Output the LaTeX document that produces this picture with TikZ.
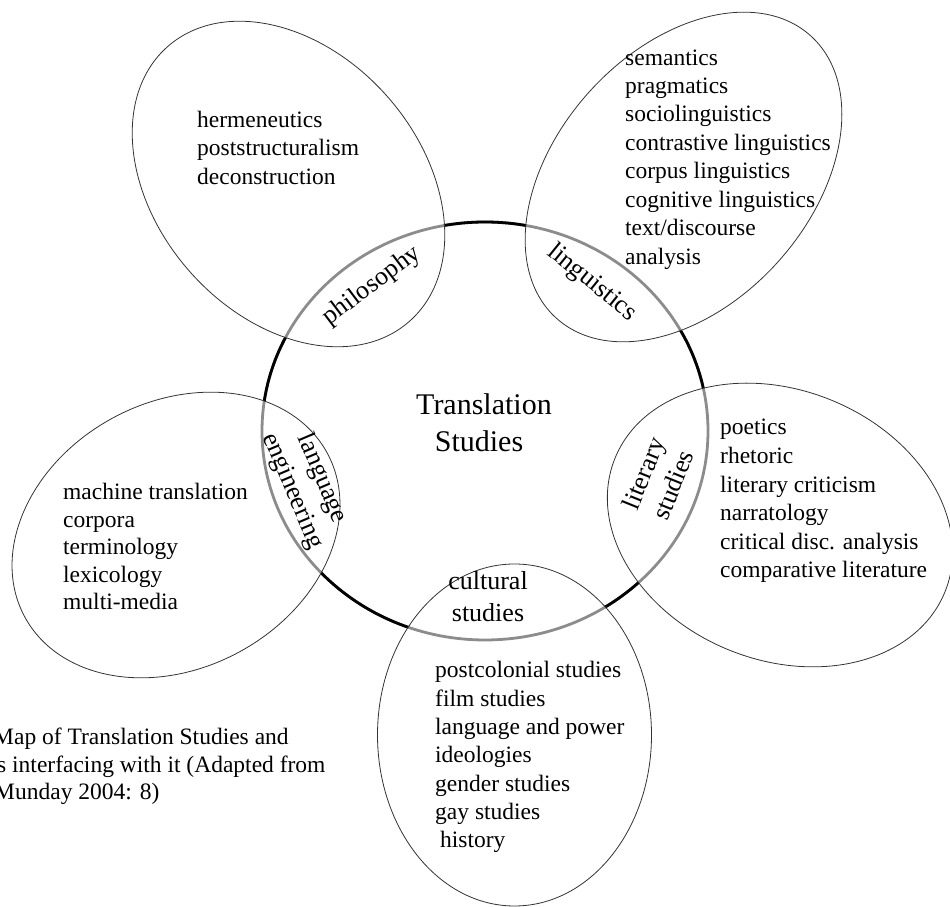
\documentclass[tikz,border=0pt]{standalone}
\usepackage{fontspec}
\setmainfont{Liberation Serif}
\usepackage{tikz}
\tikzset{every picture/.append style={x=1pt, y=1pt}}
\tikzset{
    field/.style={draw=black!80, line width=0.8pt},
    tsring/.style={line width=2.8pt},
    item/.style={anchor=base west, inner sep=0pt, font=\fontsize{23.5}{28}\selectfont},
    joint/.style={align=center, inner sep=0pt, font=\fontsize{26}{32}\selectfont},
    tstitle/.style={anchor=base, inner sep=0pt, font=\fontsize{30}{36}\selectfont}
}
% the five fields round the ring
\newcommand{\fieldpaths}{
	(288.5,723) ellipse [x radius=183, y radius=132, rotate=-48.7]
	(683.5,730) ellipse [x radius=190, y radius=127, rotate=48]
	(176,372) ellipse [x radius=172, y radius=133, rotate=28.5]
	(780,382) ellipse [x radius=178, y radius=135, rotate=-22]
	(514.5,172) ellipse [x radius=171, y radius=137, rotate=90]
}

\begin{document}
\begin{tikzpicture}
	\useasboundingbox (0,0) rectangle (950,907);
	\clip (0,0) rectangle (950,907);
	\coordinate (ts) at (485,476);

	% grey ring inside the fields, black outside them
	\draw[tsring, black!45] (ts) ellipse [x radius=223, y radius=209];
	\begin{scope}[even odd rule]
		\clip (-20,-20) rectangle (970,927) \fieldpaths;
		\draw[tsring] (ts) ellipse [x radius=223, y radius=209];
	\end{scope}
	\draw[field] \fieldpaths;

	\node (title1) [tstitle] at (484,492) {Translation};
	\node (title2) [tstitle] at (479,455) {Studies};

	\node (phil) [joint, rotate=37] at (372,621) {philosophy};
	\node (ling) [joint, rotate=-39] at (592,624) {linguistics};
	\node (lang) [joint, rotate=-67] at (307,422) {language\\engineering};
	\node (lit) [joint, rotate=68] at (658,428) {literary\\studies};
	\node (cult) [joint] at (488,310) {cultural\\studies};

	\foreach \t [count=\i] in {hermeneutics, poststructuralism, deconstruction}
		\node (phil\i) [item] at (197, 808-28.5*\i) {\t};
	\foreach \t [count=\i] in {semantics, pragmatics, sociolinguistics, contrastive linguistics,
		corpus linguistics, cognitive linguistics, text/discourse, analysis}
		\node (ling\i) [item] at (625, 870.4-28.43*\i) {\t};
	\foreach \t [count=\i] in {machine translation, corpora, terminology, lexicology, multi-media}
		\node (lang\i) [item] at (63, 434.5-27.5*\i) {\t};
	\foreach \t [count=\i] in {poetics, rhetoric, literary criticism, narratology,
		critical disc. analysis, comparative literature}
		\node (lit\i) [item] at (720, 500.6-28.6*\i) {\t};
	\foreach \t [count=\i] in {postcolonial studies, film studies, language and power, ideologies,
		gender studies, gay studies, {\hspace{5pt}history}}
		\node (cult\i) [item] at (435, 257.3-28.3*\i) {\t};

	% caption, cut at the left edge
	\node (cap1) [item] at (-7,162) {Map of Translation Studies and};
	\node (cap2) [item] at (-3,134) {s interfacing with it (Adapted from};
	\node (cap3) [item] at (-6,107) {Munday 2004: 8)};
\end{tikzpicture}
\end{document}
